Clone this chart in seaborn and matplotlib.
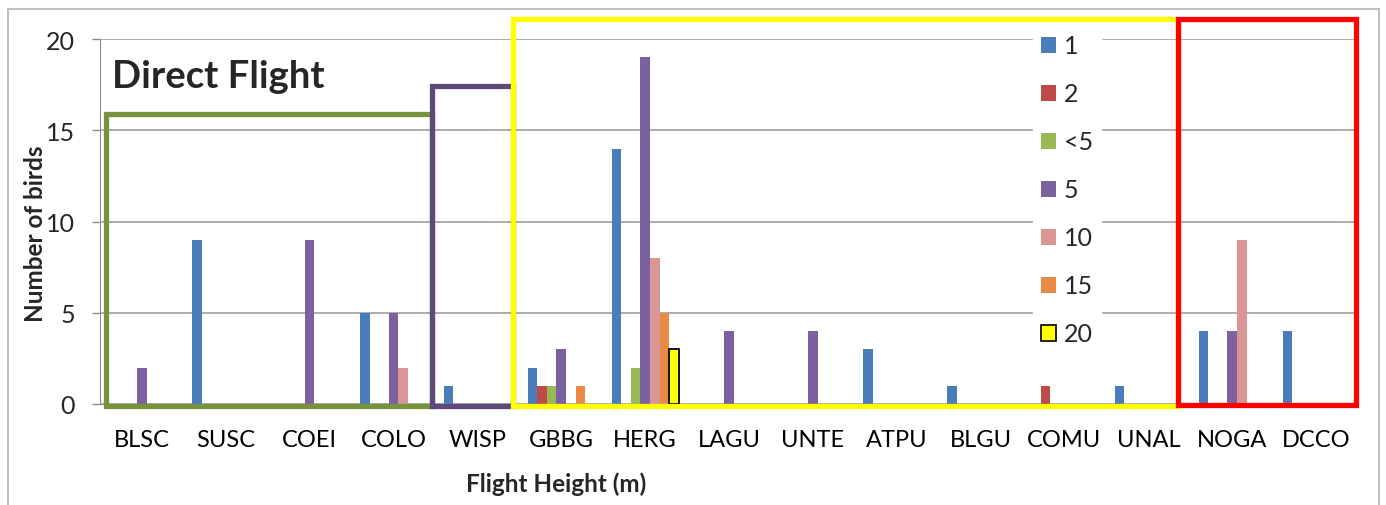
import matplotlib
matplotlib.use("Agg")
import matplotlib.pyplot as plt
import matplotlib.patches as mpatches
import seaborn as sns
import pandas as pd

species = ["BLSC", "SUSC", "COEI", "COLO", "WISP", "GBBG", "HERG", "LAGU",
           "UNTE", "ATPU", "BLGU", "COMU", "UNAL", "NOGA", "DCCO"]
heights = ["1", "2", "<5", "5", "10", "15", "20"]

h1 = [0, 9, 0, 5, 1, 2, 14, 0, 0, 3, 1, 0, 1, 4, 4]
h2 = [0, 0, 0, 0, 0, 1, 0, 0, 0, 0, 0, 1, 0, 0, 0]
hlt5 = [0, 0, 0, 0, 0, 1, 2, 0, 0, 0, 0, 0, 0, 0, 0]
h5 = [2, 0, 9, 5, 0, 3, 19, 4, 4, 0, 0, 0, 0, 4, 0]
h10 = [0, 0, 0, 2, 0, 0, 8, 0, 0, 0, 0, 0, 0, 9, 0]
h15 = [0, 0, 0, 0, 0, 1, 5, 0, 0, 0, 0, 0, 0, 0, 0]
h20 = [0, 0, 0, 0, 0, 0, 3, 0, 0, 0, 0, 0, 0, 0, 0]

colors = ["#4A7EBB", "#BE4B48", "#98B954", "#7D60A0", "#DA9694", "#E98B45", "#FFFF00"]

series = [h1, h2, hlt5, h5, h10, h15, h20]
rows = []
for hname, vals in zip(heights, series):
    for sp, v in zip(species, vals):
        rows.append({"Species": sp, "Height": hname, "Count": v})
df = pd.DataFrame(rows)

sns.set_style("white")
plt.rcParams['font.family'] = ['Lato', 'DejaVu Sans']

fig = plt.figure(figsize=(13.86, 5.06), dpi=100)
ax = fig.add_axes([100/1386, 101/506, 1258/1386, 365/506])

sns.barplot(data=df, x="Species", y="Count", hue="Height", order=species,
            hue_order=heights, palette=colors, width=0.8, linewidth=0,
            saturation=1, ax=ax, legend=False, zorder=2)

# black edge on the non-empty "20" bars
for bar in ax.containers[-1]:
    if bar.get_height() > 0:
        bar.set_edgecolor("black")
        bar.set_linewidth(1.3)

ax.set_xlim(-0.5, len(species) - 0.5)
ax.set_ylim(0, 20)
ax.set_yticks([0, 5, 10, 15, 20])
ax.yaxis.grid(True, color="#A6A6A6", linewidth=1.3, zorder=0)
ax.set_axisbelow(True)
for s in ["top", "right"]:
    ax.spines[s].set_visible(False)
ax.spines["left"].set_color("#8C8C8C")
ax.spines["bottom"].set_color("#8C8C8C")

ax.set_xticks(range(len(species)))
ax.set_xticklabels(species)
ax.set_xticks([i - 0.5 for i in range(len(species) + 1)], minor=True)
ax.tick_params(axis="x", which="major", length=0, pad=18, labelsize=17, colors="black")
ax.tick_params(axis="x", which="minor", length=6, width=1, color="#8C8C8C", direction="out")
ax.tick_params(axis="y", which="major", length=6, width=1, color="#8C8C8C",
               pad=12, labelsize=18, left=True)

ax.set_xlabel("Flight Height (m)", fontsize=17.5, fontweight="bold")
ax.set_ylabel("Number of birds", fontsize=17.5, fontweight="bold")
ax.xaxis.set_label_coords(0.3625, -0.185)
ax.yaxis.set_label_coords(-0.042, 0.47)

ax.text(0.0095, 0.868, "Direct Flight", transform=ax.transAxes, fontsize=27.5,
        fontweight="bold", ha="left", va="baseline")

# highlight boxes
boxes = [
    (-0.434, -0.09, 3.459, 15.9, "#77933C"),
    (3.459, -0.09, 4.424, 17.4, "#5F497A"),
    (4.424, -0.09, 12.35, 21.12, "#FFFF00"),
    (12.35, -0.06, 14.48, 21.12, "#FF0000"),
]
for i, (x0, y0, x1, y1, c) in enumerate(boxes):
    r = mpatches.Rectangle((x0, y0), x1 - x0, y1 - y0, fill=False, edgecolor=c,
                           linewidth=3.8, clip_on=False, zorder=5 + i)
    ax.add_patch(r)

handles = []
for i, (h, c) in enumerate(zip(heights, colors)):
    ec = "black" if h == "20" else c
    handles.append(mpatches.Patch(facecolor=c, edgecolor=ec, linewidth=1.2 if h == "20" else 0, label=h))
leg = ax.legend(handles=handles, loc="upper left", bbox_to_anchor=(0.742, 1.033),
                frameon=True, fontsize=18, handlelength=0.62, handleheight=0.62,
                handletextpad=0.3, labelspacing=1.0, borderpad=0.3, borderaxespad=0)
leg.get_frame().set_facecolor("white")
leg.get_frame().set_edgecolor("white")
leg.get_frame().set_alpha(1)
leg.set_zorder(4)

# outer chart border
border = mpatches.Rectangle((8/1386, -0.01), (1379-8)/1386, (506-10)/506 + 0.01,
                            transform=fig.transFigure, fill=False,
                            edgecolor="#BFBFBF", linewidth=1.5, clip_on=False)
fig.patches.append(border)

fig.savefig("out.png", dpi=100)
